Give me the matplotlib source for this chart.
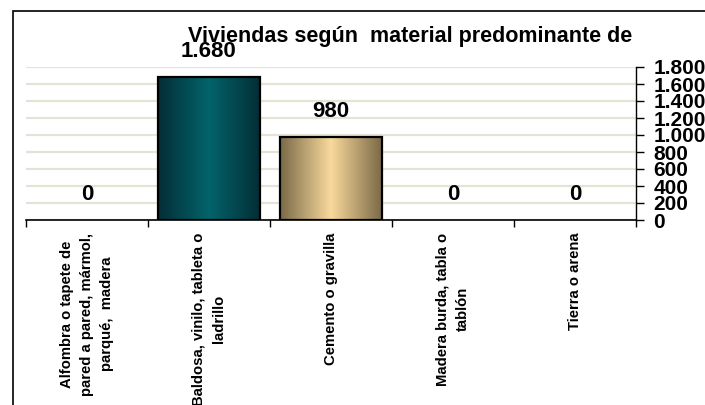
import matplotlib
matplotlib.use("Agg")
import matplotlib.pyplot as plt
import numpy as np
from matplotlib.colors import LinearSegmentedColormap
from matplotlib.patches import Rectangle
from matplotlib.ticker import FuncFormatter

categories = [
    "Alfombra o tapete de\npared a pared, mármol,\nparqué,  madera",
    "Baldosa, vinilo, tableta o\nladrillo",
    "Cemento o gravilla",
    "Madera burda, tabla o\ntablón",
    "Tierra o arena",
]
values = [0, 1680, 980, 0, 0]
value_labels = ["0", "1.680", "980", "0", "0"]
title = "Viviendas según  material predominante de"

# edge / middle / edge colours for the horizontal bar gradients
bar_shades = [
    ["#2a2a5a", "#6a6aa8", "#2a2a5a"],
    ["#032e36", "#04636b", "#032e36"],
    ["#7a6a48", "#f9d99c", "#7a6a48"],
    ["#5a3a2a", "#b08060", "#5a3a2a"],
    ["#3a5a2a", "#80a860", "#3a5a2a"],
]

plt.rcParams["font.family"] = ["Liberation Sans", "DejaVu Sans"]
plt.rcParams["font.weight"] = "bold"

W, H = 705, 405
fig = plt.figure(figsize=(W / 100, H / 100), dpi=100)
ax = fig.add_axes([26 / W, 1 - 220 / H, 610 / W, 153 / H])

x = np.arange(len(categories))
width = 0.835
ax.set_xlim(-0.5, len(categories) - 0.5)
ax.set_ylim(0, 1800)

for xi, v, shades in zip(x, values, bar_shades):
    if v <= 0:
        continue
    cmap = LinearSegmentedColormap.from_list("g", shades)
    grad = np.linspace(0, 1, 256).reshape(1, -1)
    img = ax.imshow(grad, cmap=cmap, aspect="auto", zorder=2,
                    extent=[xi - width / 2, xi + width / 2, 0, v])
    rect = Rectangle((xi - width / 2, 0), width, v, facecolor="none",
                     edgecolor="black", linewidth=1.6, zorder=3)
    ax.add_patch(rect)
    img.set_clip_path(rect)

for xi, v, lab in zip(x, values, value_labels):
    ax.annotate(lab, (xi, v), xytext=(0, 14.5), textcoords="offset points",
                ha="center", va="baseline", fontsize=16, fontweight="bold",
                annotation_clip=False, zorder=5)

ax.set_yticks(np.arange(0, 1801, 200))
ax.yaxis.set_major_formatter(
    FuncFormatter(lambda v, p: f"{int(v):,}".replace(",", ".")))
ax.yaxis.tick_right()
ax.tick_params(axis="y", direction="out", length=6, width=1, pad=6.5,
               labelsize=15)
ax.grid(axis="y", color="#e4e4d6", linewidth=1.6, zorder=0)
ax.set_axisbelow(True)

ax.set_xticks(x)
ax.set_xticklabels(categories, rotation=90, ha="center", va="top",
                   multialignment="center", fontsize=10.7, linespacing=1.55)
ax.set_xticks(np.arange(-0.5, len(categories)), minor=True)
ax.tick_params(axis="x", which="major", length=0, pad=9)
ax.tick_params(axis="x", which="minor", direction="out", length=5, width=1)

for s in ["top", "left"]:
    ax.spines[s].set_visible(False)
ax.spines["bottom"].set_linewidth(1.2)
ax.spines["right"].set_linewidth(1.0)

fig.text(410 / W, 1 - 42 / H, title, ha="center", va="baseline",
         fontsize=15.5, fontweight="bold")

fig.add_artist(Rectangle((13 / W, -0.1), 1.2, 1 - 11 / H + 0.1,
                         transform=fig.transFigure, fill=False,
                         edgecolor="black", linewidth=1.2))

fig.savefig("out.png", dpi=100)
